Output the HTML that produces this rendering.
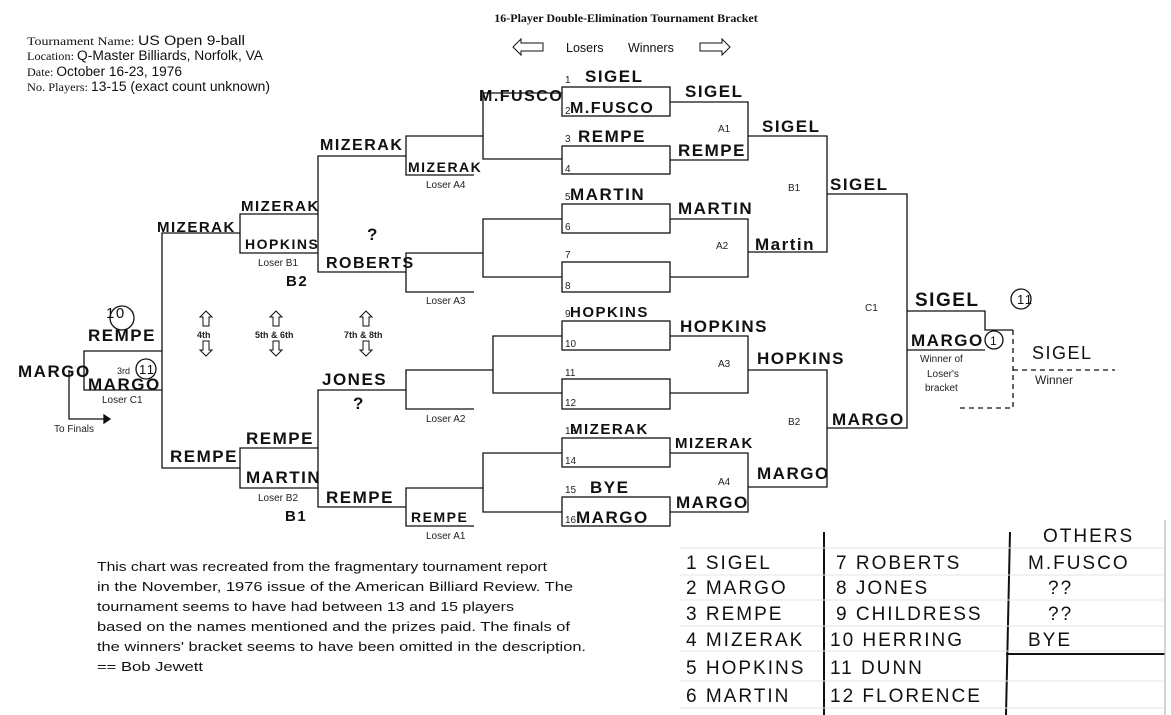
<!DOCTYPE html>
<html><head><meta charset="utf-8"><style>
html,body{margin:0;padding:0;background:#fff;}
svg{display:block}
.h{font-family:"Liberation Sans",sans-serif;font-weight:bold;font-size:17px;letter-spacing:1.5px;fill:#111}
.s{font-family:"Liberation Sans",sans-serif;font-size:10px;fill:#222}
.t{font-family:"Liberation Serif",serif;font-size:12px;fill:#111}
.a{font-family:"Liberation Sans",sans-serif;font-size:12.5px;fill:#111}
</style></head><body>
<svg width="1171" height="715" viewBox="0 0 1171 715" xmlns="http://www.w3.org/2000/svg">
<g fill="none" stroke="#111" stroke-width="1.3">
<rect x="562" y="87" width="108" height="29"/>
<rect x="562" y="146" width="108" height="28"/>
<rect x="562" y="204" width="108" height="29"/>
<rect x="562" y="262" width="108" height="30"/>
<rect x="562" y="321" width="108" height="29"/>
<rect x="562" y="379" width="108" height="30"/>
<rect x="562" y="438" width="108" height="29"/>
<rect x="562" y="497" width="108" height="29"/>
<path d="M670 102H748V160H670M670 219H748V277H670M670 336H748V393H670M670 453H748V512H670"/>
<path d="M748 136H827V252H748M748 370H827V487H748"/>
<path d="M827 194H907V428H827"/>
<path d="M907 311H985V330H1013M907 350H985"/>
<path d="M1013 330V408H960M1013 370H1115" stroke-dasharray="5,4"/>
<path d="M562 93H483V159H562M483 136H406V175H474M406 156H318V272H406M318 214H240V253H318"/>
<path d="M562 219H483V277H562M483 253H406V292H474"/>
<path d="M562 336H493V393H562M493 370H406V409H474"/>
<path d="M562 453H483V512H562M483 488H406V526H474M406 390H318V507H406M318 448H240V488H318"/>
<path d="M240 233H162V468H240M162 351H84V390H162"/>
<path d="M69 370V419H104"/>
<path d="M104 415L110 419L104 423Z" fill="#111"/>
<path d="M521 43H543V51H521V55L513 47L521 39Z" stroke-width="1"/>
<path d="M700 43H722V39L730 47L722 55V51H700Z" stroke-width="1"/>
<g stroke-width="1">
<path d="M203 326V317H200L206 311L212 317H209V326Z"/><path d="M203 341V350H200L206 356L212 350H209V341Z"/>
<path d="M273 326V317H270L276 311L282 317H279V326Z"/><path d="M273 341V350H270L276 356L282 350H279V341Z"/>
<path d="M363 326V317H360L366 311L372 317H369V326Z"/><path d="M363 341V350H360L366 356L372 350H369V341Z"/>
</g>
<circle cx="122" cy="318" r="12"/>
<circle cx="146" cy="369" r="10"/>
<circle cx="1021" cy="299" r="10"/>
<circle cx="994" cy="340" r="9"/>
<path d="M824 532V715M1010 532Q1008 620 1006 715" stroke-width="2"/>
<path d="M1006 654H1165" stroke-width="2"/>
<path d="M1165 520V715" stroke="#bbb"/>
<path d="M680 548H1165M680 575H1165M680 600H1165M680 626H1165M680 651H1165M680 681H1165M680 708H1165" stroke="#e4e4e4" stroke-width="1"/>
</g>

<text x="626" y="22" text-anchor="middle" class="t" font-weight="bold" font-size="12">16-Player Double-Elimination Tournament Bracket</text>
<text x="566" y="52" class="a">Losers</text><text x="628" y="52" class="a">Winners</text>
<text x="27" y="45" class="t" font-size="13" textLength="218" lengthAdjust="spacingAndGlyphs"><tspan>Tournament Name: </tspan><tspan font-family="Liberation Sans" font-size="13.5">US Open 9-ball</tspan></text>
<text x="27" y="60" class="t" font-size="13" textLength="236" lengthAdjust="spacingAndGlyphs"><tspan>Location: </tspan><tspan font-family="Liberation Sans" font-size="13.5">Q-Master Billiards, Norfolk, VA</tspan></text>
<text x="27" y="76" class="t" font-size="13" textLength="155" lengthAdjust="spacingAndGlyphs"><tspan>Date: </tspan><tspan font-family="Liberation Sans" font-size="13.5">October 16-23, 1976</tspan></text>
<text x="27" y="91" class="t" font-size="13" textLength="243" lengthAdjust="spacingAndGlyphs"><tspan>No. Players: </tspan><tspan font-family="Liberation Sans" font-size="13.5">13-15 (exact count unknown)</tspan></text>

<g class="s">
<text x="565" y="83">1</text><text x="565" y="114">2</text><text x="565" y="142">3</text><text x="565" y="172">4</text>
<text x="565" y="200">5</text><text x="565" y="230">6</text><text x="565" y="258">7</text><text x="565" y="289">8</text>
<text x="565" y="317">9</text><text x="565" y="347">10</text><text x="565" y="376">11</text><text x="565" y="406">12</text>
<text x="565" y="434">13</text><text x="565" y="464">14</text><text x="565" y="493">15</text><text x="565" y="523">16</text>
<text x="718" y="132">A1</text><text x="716" y="249">A2</text><text x="718" y="367">A3</text><text x="718" y="485">A4</text>
<text x="788" y="191">B1</text><text x="788" y="425">B2</text><text x="865" y="311">C1</text>
<text x="426" y="188">Loser A4</text><text x="426" y="304">Loser A3</text><text x="426" y="422">Loser A2</text><text x="426" y="539">Loser A1</text>
<text x="258" y="266">Loser B1</text><text x="258" y="501">Loser B2</text><text x="102" y="403">Loser C1</text>
<text x="54" y="432">To Finals</text>
<text x="920" y="362">Winner of</text><text x="927" y="377">Loser's</text><text x="925" y="391">bracket</text>
<text x="1035" y="384" font-size="12">Winner</text>
<text x="197" y="338" font-weight="bold" font-size="9">4th</text>
<text x="255" y="338" font-weight="bold" font-size="9">5th &amp; 6th</text>
<text x="344" y="338" font-weight="bold" font-size="9">7th &amp; 8th</text>
<text x="117" y="374" font-size="9">3rd</text>
</g>

<g class="h">
<text x="585" y="82">SIGEL</text><text x="570" y="113" font-size="16">M.FUSCO</text>
<text x="578" y="142">REMPE</text>
<text x="570" y="200">MARTIN</text>
<text x="570" y="317" font-size="15">HOPKINS</text>
<text x="570" y="434" font-size="15">MIZERAK</text>
<text x="590" y="493">BYE</text><text x="576" y="523">MARGO</text>
<text x="685" y="97">SIGEL</text><text x="678" y="156">REMPE</text>
<text x="678" y="214">MARTIN</text><text x="755" y="250">Martin</text>
<text x="680" y="332">HOPKINS</text><text x="757" y="364">HOPKINS</text>
<text x="675" y="448" font-size="15">MIZERAK</text><text x="757" y="479">MARGO</text>
<text x="676" y="508">MARGO</text>
<text x="762" y="132">SIGEL</text><text x="830" y="190">SIGEL</text>
<text x="832" y="425">MARGO</text>
<text x="915" y="306" font-size="19">SIGEL</text><text x="911" y="346">MARGO</text>
<text x="1032" y="359" font-size="18" font-weight="normal">SIGEL</text>
<text x="479" y="101" font-size="16">M.FUSCO</text>
<text x="320" y="150" font-size="16">MIZERAK</text>
<text x="408" y="172" font-size="14">MIZERAK</text>
<text x="241" y="211" font-size="15">MIZERAK</text>
<text x="157" y="232" font-size="15">MIZERAK</text>
<text x="245" y="249" font-size="14">HOPKINS</text>
<text x="367" y="240">?</text>
<text x="326" y="268" font-size="16">ROBERTS</text>
<text x="286" y="286" font-size="15">B2</text>
<text x="322" y="385">JONES</text>
<text x="353" y="409">?</text>
<text x="88" y="341">REMPE</text>
<text x="106" y="318" font-size="15" font-weight="normal">10</text>
<text x="139" y="374" font-size="13" font-weight="normal">11</text>
<text x="18" y="377">MARGO</text>
<text x="88" y="390">MARGO</text>
<text x="246" y="444">REMPE</text>
<text x="170" y="462">REMPE</text>
<text x="246" y="483">MARTIN</text>
<text x="285" y="521" font-size="15">B1</text>
<text x="326" y="503">REMPE</text>
<text x="411" y="522" font-size="14">REMPE</text>
<text x="1017" y="304" font-size="13" font-weight="normal">11</text>
<text x="990" y="345" font-size="12" font-weight="normal">1</text>
<g font-size="19" font-weight="normal" letter-spacing="2">
<text x="686" y="569">1 SIGEL</text><text x="686" y="594">2 MARGO</text><text x="686" y="620">3 REMPE</text>
<text x="686" y="646">4 MIZERAK</text><text x="686" y="674">5 HOPKINS</text><text x="686" y="702">6 MARTIN</text>
<text x="836" y="569">7 ROBERTS</text><text x="836" y="594">8 JONES</text><text x="836" y="620">9 CHILDRESS</text>
<text x="830" y="646">10 HERRING</text><text x="830" y="674">11 DUNN</text><text x="830" y="702">12 FLORENCE</text>
<text x="1043" y="542">OTHERS</text><text x="1028" y="569">M.FUSCO</text>
<text x="1048" y="594">??</text><text x="1048" y="620">??</text><text x="1028" y="646">BYE</text>
</g>
</g>

<g class="a" font-size="15.5">
<text x="97" y="571" textLength="450" lengthAdjust="spacingAndGlyphs">This chart was recreated from the fragmentary tournament report</text>
<text x="97" y="591" textLength="476" lengthAdjust="spacingAndGlyphs">in the November, 1976 issue of the American Billiard Review. The</text>
<text x="97" y="611" textLength="417" lengthAdjust="spacingAndGlyphs">tournament seems to  have had between 13 and 15 players</text>
<text x="97" y="631" textLength="473" lengthAdjust="spacingAndGlyphs">based on the names mentioned and the prizes paid. The finals of</text>
<text x="97" y="651" textLength="489" lengthAdjust="spacingAndGlyphs">the winners' bracket seems to have been omitted in the description.</text>
<text x="97" y="671" textLength="106" lengthAdjust="spacingAndGlyphs">== Bob Jewett</text>
</g>
</svg>
</body></html>
